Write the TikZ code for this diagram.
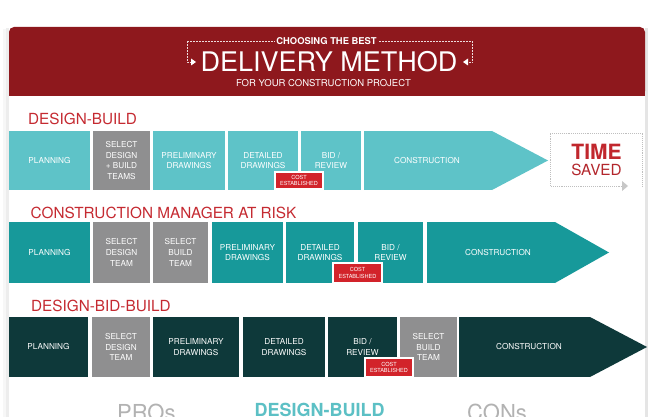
\documentclass[tikz,border=0pt]{standalone}
\usepackage{fontspec}
\setmainfont{TeX Gyre Heros}
\definecolor{hdr}{HTML}{8E181D}
\definecolor{lbl}{HTML}{C52A31}
\definecolor{tealA}{HTML}{5EC3C8}
\definecolor{tealB}{HTML}{17999A}
\definecolor{tealC}{HTML}{0E393A}
\definecolor{greyBox}{HTML}{8F8F90}
\definecolor{costRed}{HTML}{D2232A}
\definecolor{proGrey}{HTML}{B2B2B2}
\definecolor{timeRed}{HTML}{C1272D}
\definecolor{savedRed}{HTML}{B3262C}
\definecolor{dbTeal}{HTML}{5CC0C5}
\tikzset{
  stagebox/.style={inner sep=0pt, outer sep=0pt, anchor=north west, align=center,
    text=white, font=\fontsize{8.2}{10.6}\selectfont},
  costbox/.style={inner sep=0pt, outer sep=0pt, anchor=north west, align=center,
    fill=costRed, draw=white, line width=1.2pt, text=white,
    font=\fontsize{5.6}{6.4}\selectfont},
  seclabel/.style={anchor=base west, inner sep=0pt, text=lbl,
    font=\fontsize{15.3}{18}\selectfont},
  stagetext/.style={inner sep=0pt, align=center, text=white,
    font=\fontsize{8.2}{10.6}\selectfont},
  hdots/.style={draw=white!85!hdr, line width=0.7pt, dash pattern=on 0.6pt off 0.9pt},
  gdots/.style={draw=black!25, line width=0.8pt, dash pattern=on 0.7pt off 1.2pt}
}
% name, x1, x2, y1, y2, colour, text
\newcommand\stg[7]{\node[stagebox, fill=#6, minimum width={(#3-#2)*1pt},
  minimum height={(#5-#4)*1pt}] (#1) at (#2,#4) {#7};}
% name, x1, x2, y1, y2
\newcommand\cost[5]{\node[costbox, minimum width={(#3-#2)*1pt},
  minimum height={(#5-#4)*1pt}] (#1) at (#2,#4) {COST\\ESTABLISHED};}
\begin{document}
\begin{tikzpicture}[x=1pt,y=-1pt]
\useasboundingbox (0,0) rectangle (656,417);
\clip (0,0) rectangle (656,417);
% card and shadow
\fill[black!3] (3,29) rectangle (9,417);
\fill[black!7] (6,28) rectangle (9,417);
\fill[black!10] (645,28) rectangle (648,417);
\fill[white] (9,27) rectangle (645,417);
% header
\fill[hdr, rounded corners=5pt] (9,27) rectangle (645,96);
\fill[hdr] (9,60) rectangle (645,96);
\node[anchor=base, inner sep=0pt, text=white, font=\bfseries\fontsize{9.4}{11}\selectfont] (h1) at (326.5,44.6) {CHOOSING THE BEST};
\node[anchor=base, inner sep=0pt, text=white, font=\fontsize{27}{30}\selectfont] (h2) at (329,72) {DELIVERY METHOD};
\node[anchor=base, inner sep=0pt, text=white, font=\fontsize{9.5}{11}\selectfont] (h3) at (323.5,87) {FOR YOUR CONSTRUCTION PROJECT};
\coordinate (bl1) at (187,41);
\coordinate (bl2) at (187,62);
\coordinate (bl3) at (191,62);
\coordinate (br1) at (472,41);
\coordinate (br2) at (472,62);
\coordinate (br3) at (468,62);
\draw[hdots] ([xshift=-2pt]h1.west |- bl1) -- (bl1) -- (bl2) -- (bl3);
\draw[hdots] ([xshift=2pt]h1.east |- br1) -- (br1) -- (br2) -- (br3);
\fill[white] (191,58.5) -- (196,62) -- (191,65.5) -- cycle;
\fill[white] (468,58.5) -- (463,62) -- (468,65.5) -- cycle;

% ---------- DESIGN-BUILD ----------
\node[seclabel] (l1) at (28,124.5) {DESIGN-BUILD};
\stg{a1}{9}{90}{131}{190}{tealA}{PLANNING}
\stg{a2}{93}{150}{131}{190}{greyBox}{SELECT\\DESIGN\\+ BUILD\\TEAMS}
\stg{a3}{153}{225}{131}{190}{tealA}{PRELIMINARY\\DRAWINGS}
\stg{a4}{228}{298}{131}{190}{tealA}{DETAILED\\DRAWINGS}
\stg{a5}{301}{361}{131}{190}{tealA}{BID /\\REVIEW}
\stg{a6}{364}{492}{131}{190}{tealA}{}
\coordinate (a6tip) at (548,160.5);
\fill[tealA] (a6.north east) -- (a6tip) -- (a6.south east) -- cycle;
\node[stagetext] (a6t) at (427,160.5) {CONSTRUCTION};
\cost{k1}{275}{323}{172}{189}
% time saved
\draw[gdots] (622,186) -- (550,186) -- (550,133) -- (642,133) -- (642,186);
\fill[black!22] (622,181) -- (628,186) -- (622,191) -- cycle;
\node[anchor=base, inner sep=0pt, text=timeRed, font=\bfseries\fontsize{21}{24}\selectfont] (ts1) at (596.5,160) {TIME};
\node[anchor=base, inner sep=0pt, text=savedRed, font=\fontsize{15.3}{18}\selectfont] (ts2) at (596.5,175.5) {SAVED};

% ---------- CM AT RISK ----------
\node[seclabel] (l2) at (30.5,218.5) {CONSTRUCTION MANAGER AT RISK};
\stg{b1}{9}{90}{222}{283}{tealB}{PLANNING}
\stg{b2}{93}{150}{222}{283}{greyBox}{SELECT\\DESIGN\\TEAM}
\stg{b3}{153}{208}{222}{283}{greyBox}{SELECT\\BUILD\\TEAM}
\stg{b4}{212}{283}{222}{283}{tealB}{PRELIMINARY\\DRAWINGS}
\stg{b5}{286}{354}{222}{283}{tealB}{DETAILED\\DRAWINGS}
\stg{b6}{358}{423}{222}{283}{tealB}{BID /\\REVIEW}
\stg{b7}{427}{555}{222}{283}{tealB}{}
\coordinate (b7tip) at (609,252.5);
\fill[tealB] (b7.north east) -- (b7tip) -- (b7.south east) -- cycle;
\node[stagetext] (b7t) at (498,252.5) {CONSTRUCTION};
\cost{k2}{333}{382}{263}{283}

% ---------- DESIGN-BID-BUILD ----------
\node[seclabel] (l3) at (31,311.5) {DESIGN-BID-BUILD};
\stg{c1}{9}{88}{317}{377}{tealC}{PLANNING}
\stg{c2}{92}{150}{317}{377}{greyBox}{SELECT\\DESIGN\\TEAM}
\stg{c3}{153}{239}{317}{377}{tealC}{PRELIMINARY\\DRAWINGS}
\stg{c4}{243}{325}{317}{377}{tealC}{DETAILED\\DRAWINGS}
\stg{c5}{328}{397}{317}{377}{tealC}{BID /\\REVIEW}
\stg{c6}{400}{457}{317}{377}{greyBox}{SELECT\\BUILD\\TEAM}
\stg{c7}{459}{590}{317}{377}{tealC}{}
\coordinate (c7tip) at (647,347);
\fill[tealC] (c7.north east) -- (c7tip) -- (c7.south east) -- cycle;
\node[stagetext] (c7t) at (529,347) {CONSTRUCTION};
\cost{k3}{365}{413}{358}{377}

% ---------- bottom ----------
\node[anchor=base west, inner sep=0pt, text=proGrey, font=\fontsize{22}{24}\selectfont] (pro) at (117,420) {PROs};
\node[anchor=base, inner sep=0pt, text=dbTeal, font=\bfseries\fontsize{18}{20}\selectfont] (db) at (319.5,416.5) {DESIGN-BUILD};
\node[anchor=base west, inner sep=0pt, text=proGrey, font=\fontsize{22}{24}\selectfont] (con) at (467,420) {CONs};
\end{tikzpicture}
\end{document}
